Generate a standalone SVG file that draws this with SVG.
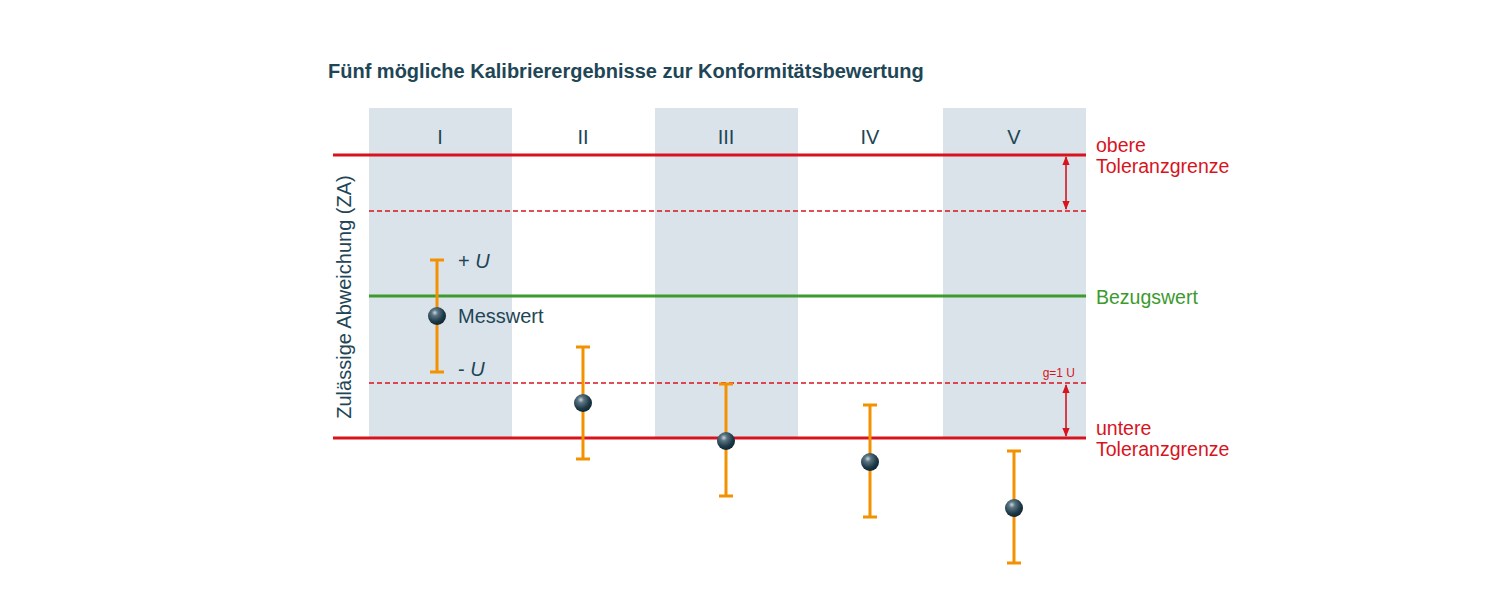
<svg xmlns="http://www.w3.org/2000/svg" width="1500" height="594" viewBox="0 0 1500 594">
<style>
.col{fill:#dbe3ea}
.lbl{font-family:"Liberation Sans",Arial,sans-serif;font-size:20px;fill:#1e4656}
.red{font-family:"Liberation Sans",Arial,sans-serif;font-size:19.5px;fill:#d7141e}
.tol{stroke:#d7141e;stroke-width:3;fill:none}
.dash{stroke:#d7141e;stroke-width:1.4;stroke-dasharray:5 3;fill:none}
.err{stroke:#f39200;stroke-width:3;fill:none}
.arr{stroke:#d7141e;stroke-width:1.6;fill:none}
</style>
<defs>
<radialGradient id="ball" cx="0.38" cy="0.32" r="0.7">
<stop offset="0" stop-color="#c9d6dd"/>
<stop offset="0.25" stop-color="#5a7482"/>
<stop offset="0.7" stop-color="#1e3a48"/>
<stop offset="1" stop-color="#0f2630"/>
</radialGradient>
<marker id="ah" viewBox="0 0 10 10" refX="9" refY="5" markerWidth="10" markerHeight="9" markerUnits="userSpaceOnUse" orient="auto-start-reverse">
<path d="M0,1 L10,5 L0,9 z" fill="#d7141e"/>
</marker>
</defs>
<rect width="1500" height="594" fill="#ffffff"/>
<text x="328" y="78" font-family="Liberation Sans,Arial,sans-serif" font-weight="bold" font-size="20" fill="#1e4656">Fünf mögliche Kalibrierergebnisse zur Konformitätsbewertung</text>
<g id="columns">
<rect class="col" x="369" y="108" width="143" height="330"/>
<rect class="col" x="655" y="108" width="143" height="330"/>
<rect class="col" x="943" y="108" width="143" height="330"/>
<text class="lbl" x="440" y="144" text-anchor="middle">I</text>
<text class="lbl" x="583" y="144" text-anchor="middle">II</text>
<text class="lbl" x="726" y="144" text-anchor="middle">III</text>
<text class="lbl" x="870" y="144" text-anchor="middle">IV</text>
<text class="lbl" x="1014" y="144" text-anchor="middle">V</text>
</g>
<g id="axis-label">
<text class="lbl" transform="translate(351,297) rotate(-90)" text-anchor="middle">Zulässige Abweichung (ZA)</text>
</g>
<g id="reference-lines">
<line class="tol" x1="333" y1="155" x2="1086" y2="155"/>
<line class="tol" x1="333" y1="438" x2="1086" y2="438"/>
<line class="dash" x1="369" y1="211" x2="1086" y2="211"/>
<line class="dash" x1="369" y1="383" x2="1086" y2="383"/>
<line x1="369" y1="296" x2="1086" y2="296" stroke="#3c9a2e" stroke-width="3"/>
</g>
<g id="connectors">
<line class="arr" x1="1066" y1="157" x2="1066" y2="209" marker-start="url(#ah)" marker-end="url(#ah)"/>
<line class="arr" x1="1066" y1="385" x2="1066" y2="436" marker-start="url(#ah)" marker-end="url(#ah)"/>
</g>
<g id="labels-right">
<text class="red" x="1096" y="152">obere</text>
<text class="red" x="1096" y="173">Toleranzgrenze</text>
<text x="1096" y="304" font-family="Liberation Sans,Arial,sans-serif" font-size="19.5" fill="#3c9a2e">Bezugswert</text>
<text class="red" x="1096" y="435">untere</text>
<text class="red" x="1096" y="456">Toleranzgrenze</text>
<text x="1075" y="377" text-anchor="end" font-family="Liberation Sans,Arial,sans-serif" font-size="12" fill="#d7141e">g=1 U</text>
</g>
<g id="result-I">
<path class="err" d="M437,260 V372 M430,260 H444 M430,372 H444"/>
<circle cx="437" cy="316" r="9" fill="url(#ball)"/>
<text class="lbl" x="458" y="268">+ <tspan font-style="italic">U</tspan></text>
<text class="lbl" x="458" y="323">Messwert</text>
<text class="lbl" x="458" y="376">- <tspan font-style="italic">U</tspan></text>
</g>
<g id="result-II">
<path class="err" d="M583,347 V459 M576,347 H590 M576,459 H590"/>
<circle cx="583" cy="403" r="9" fill="url(#ball)"/>
</g>
<g id="result-III">
<path class="err" d="M726,384 V496 M719,384 H733 M719,496 H733"/>
<circle cx="726" cy="441" r="9" fill="url(#ball)"/>
</g>
<g id="result-IV">
<path class="err" d="M870,405 V517 M863,405 H877 M863,517 H877"/>
<circle cx="870" cy="462" r="9" fill="url(#ball)"/>
</g>
<g id="result-V">
<path class="err" d="M1014,451 V563 M1007,451 H1021 M1007,563 H1021"/>
<circle cx="1014" cy="508" r="9" fill="url(#ball)"/>
</g>
</svg>
